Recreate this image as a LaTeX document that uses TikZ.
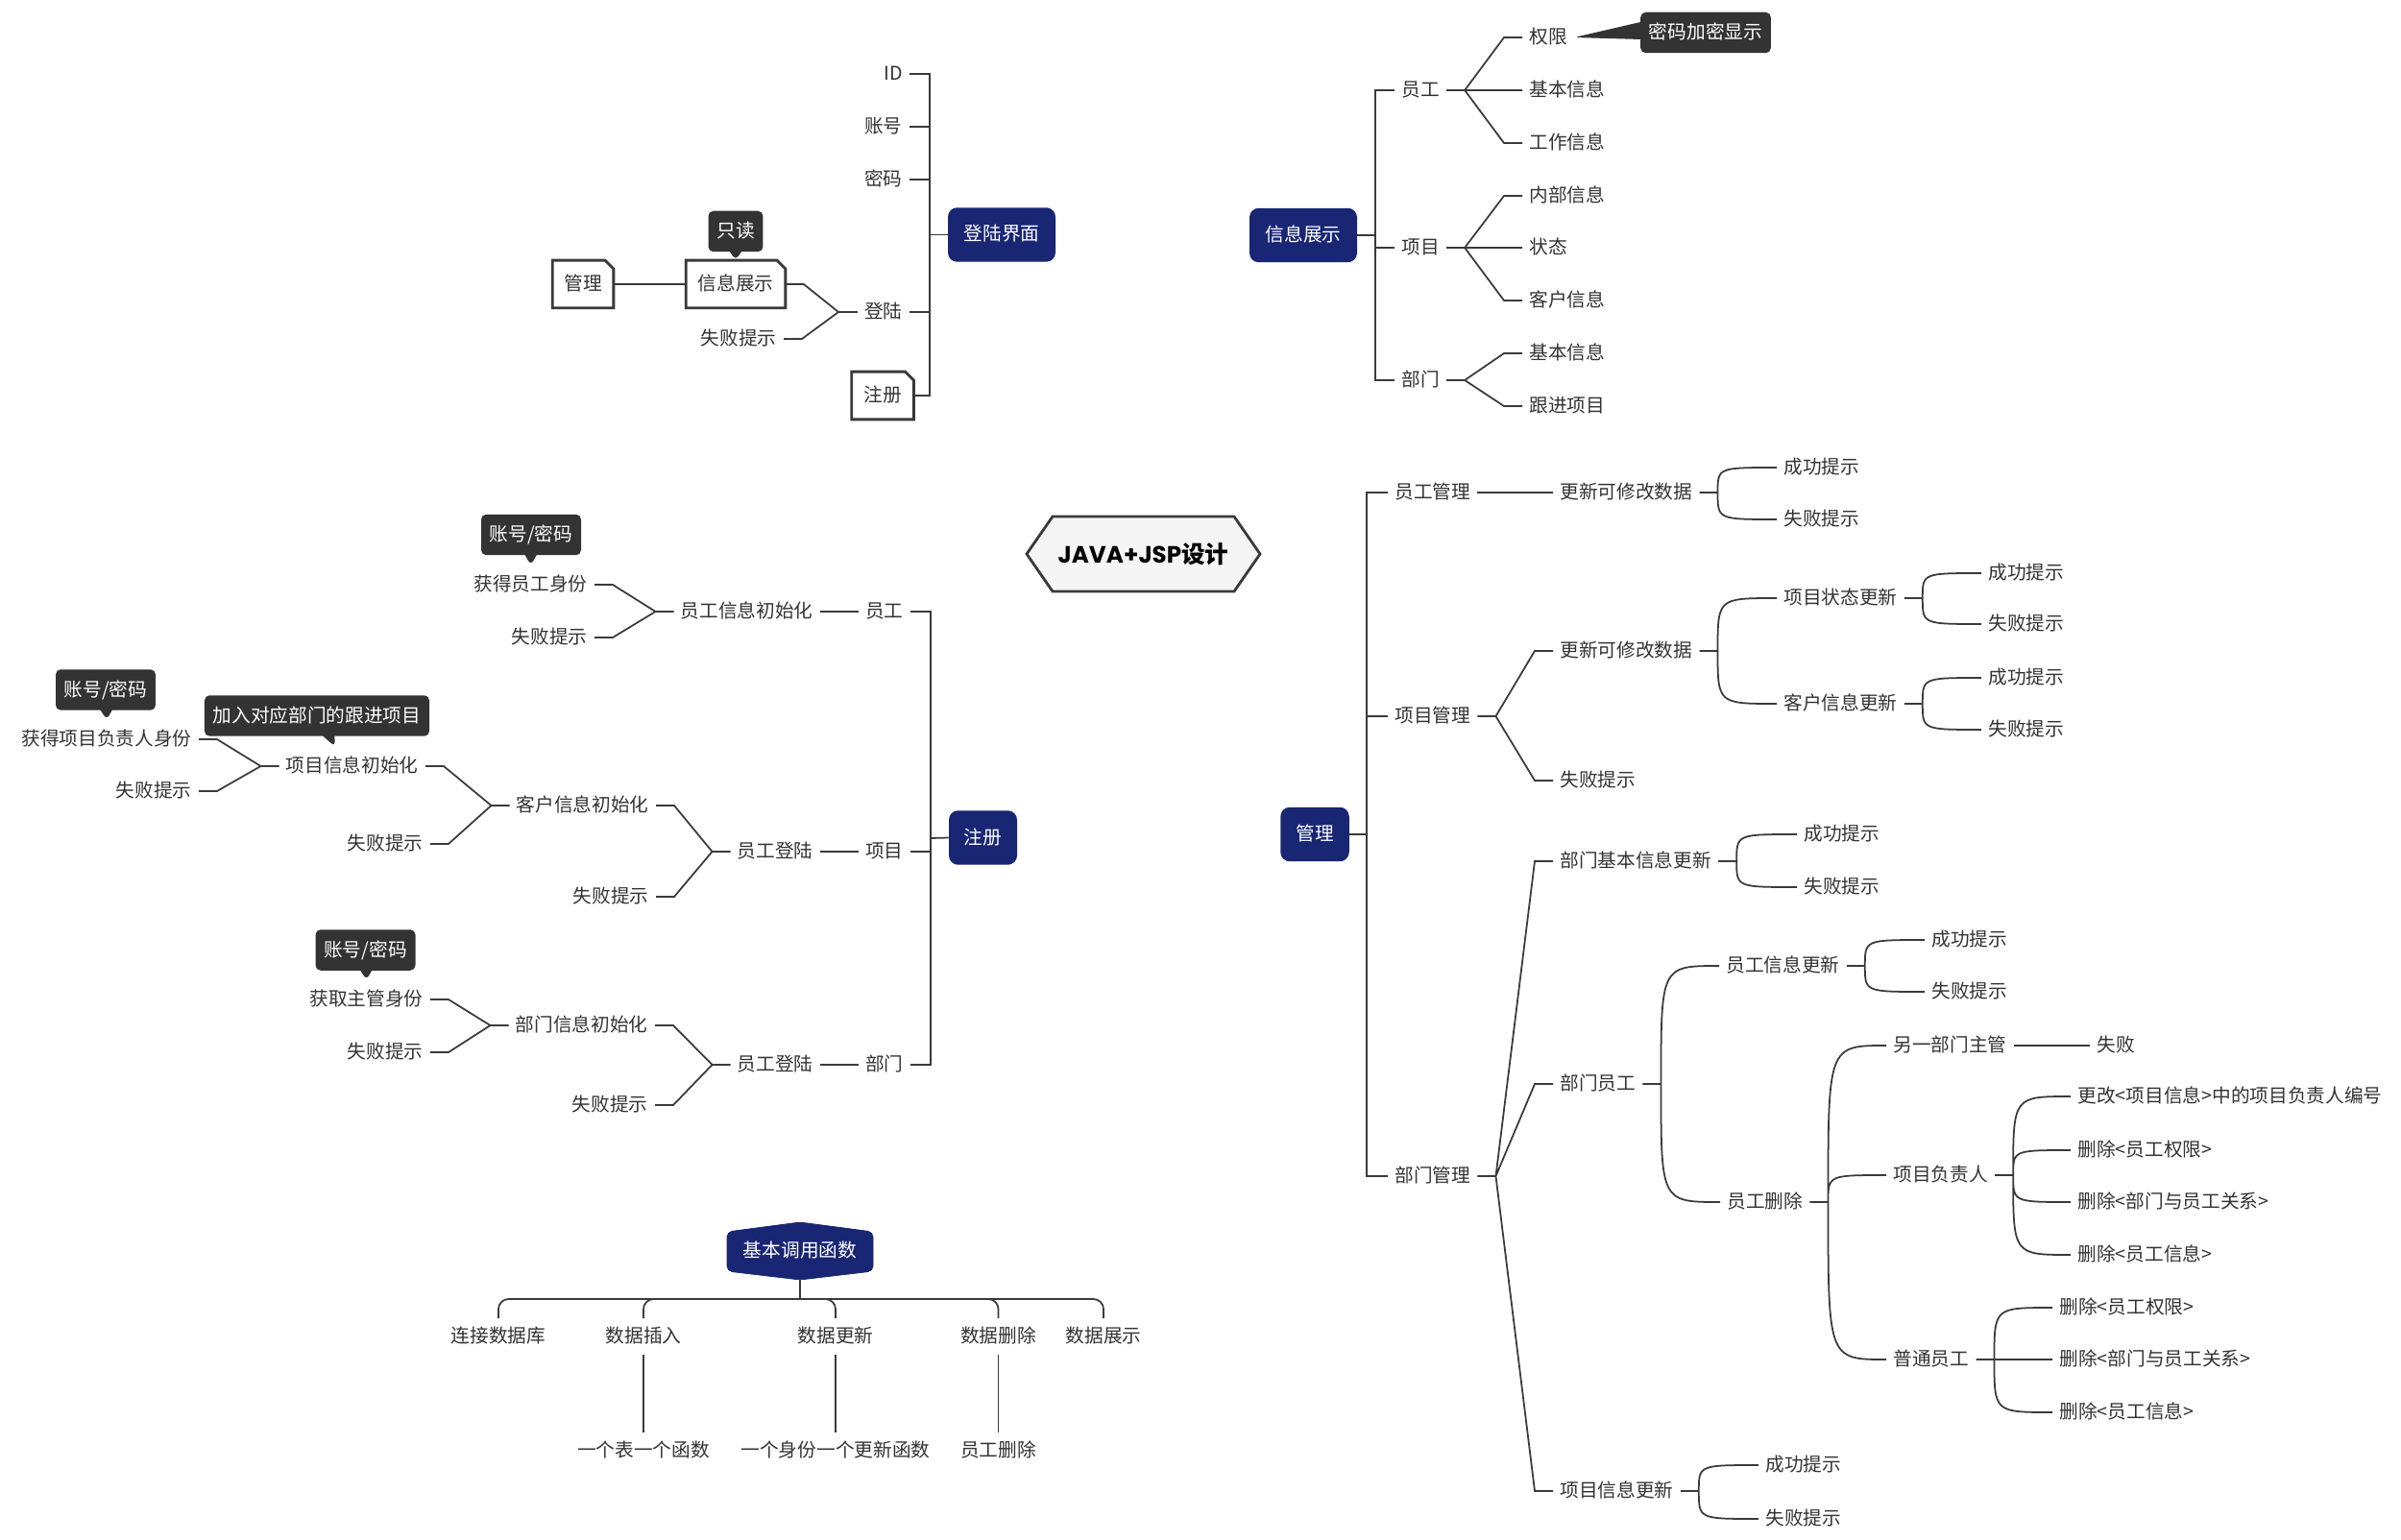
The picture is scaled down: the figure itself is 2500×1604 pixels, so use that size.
\documentclass[tikz,border=0pt]{standalone}
\usepackage{fontspec}
\setmainfont{Noto Sans CJK SC}
\newfontfamily\popfont{Poppins}
\usetikzlibrary{shapes.callouts}
\definecolor{navy}{RGB}{24,38,115}
\definecolor{tipc}{RGB}{51,51,51}
\definecolor{txtc}{RGB}{51,51,51}
\definecolor{linec}{RGB}{58,58,58}
\definecolor{rootc}{RGB}{245,245,245}
\tikzset{
  lbl/.style={inner xsep=4pt, inner ysep=1pt, text height=0.84em, text depth=0.1em, text=txtc, font=\fontsize{11.2}{13}\selectfont},
  topic/.style={lbl, fill=navy, text=white, rounded corners=5.5pt, minimum height=1.13cm},
  foldbox/.style={lbl, minimum height=0.98cm},
  foldline/.style={draw=linec, line width=1.6pt},
  tipbox/.style={lbl, rectangle callout, fill=tipc, text=white, rounded corners=3pt, inner xsep=5pt, minimum height=0.85cm, callout pointer width=0.24cm},
  fnc/.style={lbl, inner ysep=6pt, anchor=north},
  conn/.style={draw=linec, line width=1pt},
  rdiag/.style={to path={-- ([xshift=-0.38cm]\tikztotarget) -- (\tikztotarget)}},
  ldiag/.style={to path={-- ([xshift=0.38cm]\tikztotarget) -- (\tikztotarget)}},
  curvy/.style={to path={.. controls (\tikztostart |- \tikztotarget) .. (\tikztotarget)}}
}
\begin{document}
\begin{tikzpicture}[x=0.02cm, y=-0.02cm]
  \fill[white] (0,0) rectangle (2500,1604);
  \useasboundingbox (0,0) rectangle (2500,1604);

  \filldraw[fill=rootc, draw=linec, line width=1.6pt] (1069,577) -- (1096,538) -- (1285,538) -- (1312,577) -- (1285,616) -- (1096,616) -- cycle;
  \node[font=\fontsize{14}{16}\selectfont] (root) at (1190.5,577) {{\popfont\bfseries JAVA+JSP}\textbf{设计}};

  \node[topic, minimum width=2.24cm] (login) at (1043,244.5) {登陆界面};
  \coordinate (lgS) at (968,244.5);
  \node[lbl, anchor=east] (lgid) at (947,77) {ID};
  \node[lbl, anchor=east] (lgacc) at (947,132) {账号};
  \node[lbl, anchor=east] (lgpwd) at (947,187) {密码};
  \node[lbl, anchor=east] (lgin) at (947,325) {登陆};
  \node[foldbox, minimum width=1.28cm] (lgreg) at (919,412) {注册};
  \coordinate (lgF) at (873,325);
  \node[foldbox, minimum width=2.06cm] (lginfo) at (766,296) {信息展示};
  \node[lbl, anchor=east] (lgfail) at (816,353) {失败提示};
  \node[foldbox, minimum width=1.26cm] (lgmgr) at (607,296) {管理};
  \node[tipbox, callout absolute pointer={(lginfo.north)}] (lgtip) at (766,241) {只读};
  \draw[conn] (login.west) -- (lgS);
  \foreach \c in {lgid,lgacc,lgpwd,lgin,lgreg} \draw[conn] (\c.east) -| (lgS);
  \draw[conn] (lgin.west) -- (lgF) to[ldiag] (lginfo.east) (lgF) to[ldiag] (lgfail.east);
  \draw[conn] (lgmgr.east) -- (lginfo.west);
  \foreach \n in {lgmgr,lginfo,lgreg}
    \draw[foldline] (\n.south west) -- (\n.north west) -- ([xshift=-5pt]\n.north east) -- ([yshift=-5pt]\n.north east) -- (\n.south east) -- cycle;

  \node[topic, minimum width=2.24cm] (info) at (1357,245) {信息展示};
  \coordinate (infS) at (1432,245);
  \node[lbl, anchor=west] (ie) at (1452,94) {员工};
  \node[lbl, anchor=west] (ip) at (1452,258) {项目};
  \node[lbl, anchor=west] (idp) at (1452,396) {部门};
  \node[lbl, anchor=west] (ie1) at (1585,39) {权限};
  \node[lbl, anchor=west] (ie2) at (1585,94) {基本信息};
  \node[lbl, anchor=west] (ie3) at (1585,149) {工作信息};
  \node[lbl, anchor=west] (ip1) at (1585,204) {内部信息};
  \node[lbl, anchor=west] (ip2) at (1585,258) {状态};
  \node[lbl, anchor=west] (ip3) at (1585,313) {客户信息};
  \node[lbl, anchor=west] (id1) at (1585,368) {基本信息};
  \node[lbl, anchor=west] (id2) at (1585,423) {跟进项目};
  \node[tipbox, callout absolute pointer={(ie1.east)}, callout pointer width=0.36cm] (ietip) at (1776,34) {密码加密显示};
  \draw[conn] (info.east) -- (infS);
  \foreach \c in {ie,ip,idp} \draw[conn] (\c.west) -| (infS);
  \coordinate (ieF) at ([xshift=0.38cm]ie.east);
  \coordinate (ipF) at ([xshift=0.38cm]ip.east);
  \coordinate (idF) at ([xshift=0.38cm]idp.east);
  \draw[conn] (ie.east) -- (ieF) to[rdiag] (ie1.west) (ieF) to[rdiag] (ie2.west) (ieF) to[rdiag] (ie3.west);
  \draw[conn] (ip.east) -- (ipF) to[rdiag] (ip1.west) (ipF) to[rdiag] (ip2.west) (ipF) to[rdiag] (ip3.west);
  \draw[conn] (idp.east) -- (idF) to[rdiag] (id1.west) (idF) to[rdiag] (id2.west);

  \node[topic, minimum width=1.42cm] (reg) at (1023.5,872.5) {注册};
  \coordinate (regS) at (969,873);
  \node[lbl, anchor=east] (rg) at (948,637) {员工};
  \node[lbl, anchor=east] (rp) at (948,887) {项目};
  \node[lbl, anchor=east] (rd) at (948,1109) {部门};
  \node[lbl, anchor=east] (rgi) at (854,637) {员工信息初始化};
  \node[lbl, anchor=east] (rgi1) at (619,609) {获得员工身份};
  \node[lbl, anchor=east] (rgi2) at (619,664) {失败提示};
  \node[lbl, anchor=east] (rpl) at (854,887) {员工登陆};
  \node[lbl, anchor=east] (rpl1) at (683,839) {客户信息初始化};
  \node[lbl, anchor=east] (rpl2) at (683,934) {失败提示};
  \node[lbl, anchor=east] (rpc1) at (443,798) {项目信息初始化};
  \node[lbl, anchor=east] (rpc2) at (448,879) {失败提示};
  \node[lbl, anchor=east] (rpp1) at (207,770) {获得项目负责人身份};
  \node[lbl, anchor=east] (rpp2) at (207,824) {失败提示};
  \node[lbl, anchor=east] (rdl) at (854,1109) {员工登陆};
  \node[lbl, anchor=east] (rdl1) at (682,1068) {部门信息初始化};
  \node[lbl, anchor=east] (rdl2) at (682,1151) {失败提示};
  \node[lbl, anchor=east] (rdi1) at (448,1041) {获取主管身份};
  \node[lbl, anchor=east] (rdi2) at (448,1096) {失败提示};
  \node[tipbox, callout absolute pointer={([yshift=0.2cm]rgi1.north)}] (rgtip) at (553,557) {账号/密码};
  \node[tipbox, callout absolute pointer={([yshift=0.2cm]rpp1.north)}] (rptip) at (110,718.5) {账号/密码};
  \node[tipbox, callout absolute pointer={([xshift=-0.36cm,yshift=0.2cm]rpc1.north)}] (rctip) at (330,745.5) {加入对应部门的跟进项目};
  \node[tipbox, callout absolute pointer={([yshift=0.2cm]rdi1.north)}] (rdtip) at (380.5,989.5) {账号/密码};
  \draw[conn] (reg.west) -- (regS);
  \foreach \c in {rg,rp,rd} \draw[conn] (\c.east) -| (regS);
  \draw[conn] (rgi.east) -- (rg.west);
  \draw[conn] (rpl.east) -- (rp.west);
  \draw[conn] (rdl.east) -- (rd.west);
  \coordinate (rgF) at ([xshift=-0.38cm]rgi.west);
  \coordinate (rpF) at ([xshift=-0.38cm]rpl.west);
  \coordinate (rpcF) at ([xshift=-0.38cm]rpl1.west);
  \coordinate (rppF) at ([xshift=-0.38cm]rpc1.west);
  \coordinate (rdF) at ([xshift=-0.38cm]rdl.west);
  \coordinate (rdiF) at ([xshift=-0.38cm]rdl1.west);
  \draw[conn] (rgi.west) -- (rgF) to[ldiag] (rgi1.east) (rgF) to[ldiag] (rgi2.east);
  \draw[conn] (rpl.west) -- (rpF) to[ldiag] (rpl1.east) (rpF) to[ldiag] (rpl2.east);
  \draw[conn] (rpl1.west) -- (rpcF) to[ldiag] (rpc1.east) (rpcF) to[ldiag] (rpc2.east);
  \draw[conn] (rpc1.west) -- (rppF) to[ldiag] (rpp1.east) (rppF) to[ldiag] (rpp2.east);
  \draw[conn] (rdl.west) -- (rdF) to[ldiag] (rdl1.east) (rdF) to[ldiag] (rdl2.east);
  \draw[conn] (rdl1.west) -- (rdiF) to[ldiag] (rdi1.east) (rdiF) to[ldiag] (rdi2.east);

  \filldraw[fill=navy, draw=navy, rounded corners=3pt] (757,1283) -- (833,1273) -- (909,1283) -- (909,1324) -- (833,1333) -- (757,1324) -- cycle;
  \node[lbl, text=white] (fn) at (833,1303) {基本调用函数};
  \coordinate (fnT) at (833,1333);
  \coordinate (fnB) at (833,1353);
  \node[fnc] (fa) at (519,1373) {连接数据库};
  \node[fnc] (fb) at (670,1373) {数据插入};
  \node[fnc] (fc) at (870,1373) {数据更新};
  \node[fnc] (fd) at (1039.5,1373) {数据删除};
  \node[fnc] (fe) at (1149,1373) {数据展示};
  \node[fnc] (fb1) at (670,1492) {一个表一个函数};
  \node[fnc] (fc1) at (870,1492) {一个身份一个更新函数};
  \node[fnc] (fd1) at (1039.5,1492) {员工删除};
  \draw[conn] (fnT) -- (fnB);
  \foreach \c in {fa,fb,fc,fd,fe} \draw[conn, rounded corners=6pt] (fnB) -| (\c.north);
  \foreach \c in {fb,fc,fd} \draw[conn] (\c.south) -- (\c1.north);

  \node[topic, minimum width=1.43cm] (mg) at (1369,869) {管理};
  \coordinate (mgS) at (1423,869);
  \node[lbl, anchor=west] (me) at (1445,513) {员工管理};
  \node[lbl, anchor=west] (mp) at (1445,746) {项目管理};
  \node[lbl, anchor=west] (md) at (1445,1225) {部门管理};
  \node[lbl, anchor=west] (meu) at (1617,513) {更新可修改数据};
  \node[lbl, anchor=west] (meu1) at (1850,487) {成功提示};
  \node[lbl, anchor=west] (meu2) at (1850,541) {失败提示};
  \node[lbl, anchor=west] (mpu) at (1617,678) {更新可修改数据};
  \node[lbl, anchor=west] (mpf) at (1617,813) {失败提示};
  \node[lbl, anchor=west] (mps) at (1850,623) {项目状态更新};
  \node[lbl, anchor=west] (mpc) at (1850,733) {客户信息更新};
  \node[lbl, anchor=west] (mps1) at (2063,597) {成功提示};
  \node[lbl, anchor=west] (mps2) at (2063,650) {失败提示};
  \node[lbl, anchor=west] (mpc1) at (2063,706) {成功提示};
  \node[lbl, anchor=west] (mpc2) at (2063,760) {失败提示};
  \node[lbl, anchor=west] (mdb) at (1617,897) {部门基本信息更新};
  \node[lbl, anchor=west] (mdb1) at (1871,869) {成功提示};
  \node[lbl, anchor=west] (mdb2) at (1871,924) {失败提示};
  \node[lbl, anchor=west] (mds) at (1617,1129) {部门员工};
  \node[lbl, anchor=west] (msu) at (1790,1006) {员工信息更新};
  \node[lbl, anchor=west] (msu1) at (2004,979) {成功提示};
  \node[lbl, anchor=west] (msu2) at (2004,1033) {失败提示};
  \node[lbl, anchor=west] (msd) at (1791,1252) {员工删除};
  \node[lbl, anchor=west] (mso) at (1964,1089) {另一部门主管};
  \node[lbl, anchor=west] (mso1) at (2176,1089) {失败};
  \node[lbl, anchor=west] (msl) at (1964,1224) {项目负责人};
  \node[lbl, anchor=west] (msl1) at (2156,1142) {更改<项目信息>中的项目负责人编号};
  \node[lbl, anchor=west] (msl2) at (2156,1198) {删除<员工权限>};
  \node[lbl, anchor=west] (msl3) at (2156,1252) {删除<部门与员工关系>};
  \node[lbl, anchor=west] (msl4) at (2156,1307) {删除<员工信息>};
  \node[lbl, anchor=west] (msn) at (1964,1416) {普通员工};
  \node[lbl, anchor=west] (msn1) at (2137,1362) {删除<员工权限>};
  \node[lbl, anchor=west] (msn2) at (2137,1416) {删除<部门与员工关系>};
  \node[lbl, anchor=west] (msn3) at (2137,1471) {删除<员工信息>};
  \node[lbl, anchor=west] (mdp) at (1617,1553) {项目信息更新};
  \node[lbl, anchor=west] (mdp1) at (1831,1526) {成功提示};
  \node[lbl, anchor=west] (mdp2) at (1831,1582) {失败提示};
  \draw[conn] (mg.east) -- (mgS);
  \foreach \c in {me,mp,md} \draw[conn] (\c.west) -| (mgS);
  \draw[conn] (me.east) -- (meu.west);
  \coordinate (meuF) at ([xshift=0.38cm]meu.east);
  \coordinate (mpF) at ([xshift=0.38cm]mp.east);
  \coordinate (mpuF) at ([xshift=0.38cm]mpu.east);
  \coordinate (mpsF) at ([xshift=0.38cm]mps.east);
  \coordinate (mpcF) at ([xshift=0.38cm]mpc.east);
  \coordinate (mdF) at ([xshift=0.38cm]md.east);
  \coordinate (mdbF) at ([xshift=0.38cm]mdb.east);
  \coordinate (mdsF) at ([xshift=0.38cm]mds.east);
  \coordinate (msuF) at ([xshift=0.38cm]msu.east);
  \coordinate (msdF) at ([xshift=0.38cm]msd.east);
  \coordinate (mslF) at ([xshift=0.38cm]msl.east);
  \coordinate (msnF) at ([xshift=0.38cm]msn.east);
  \coordinate (mdpF) at ([xshift=0.38cm]mdp.east);
  \draw[conn] (meu.east) -- (meuF) to[curvy] (meu1.west) (meuF) to[curvy] (meu2.west);
  \draw[conn] (mp.east) -- (mpF) to[rdiag] (mpu.west) (mpF) to[rdiag] (mpf.west);
  \draw[conn] (mpu.east) -- (mpuF) to[curvy] (mps.west) (mpuF) to[curvy] (mpc.west);
  \draw[conn] (mps.east) -- (mpsF) to[curvy] (mps1.west) (mpsF) to[curvy] (mps2.west);
  \draw[conn] (mpc.east) -- (mpcF) to[curvy] (mpc1.west) (mpcF) to[curvy] (mpc2.west);
  \draw[conn] (md.east) -- (mdF) to[rdiag] (mdb.west) (mdF) to[rdiag] (mds.west) (mdF) to[rdiag] (mdp.west);
  \draw[conn] (mdb.east) -- (mdbF) to[curvy] (mdb1.west) (mdbF) to[curvy] (mdb2.west);
  \draw[conn] (mds.east) -- (mdsF) to[curvy] (msu.west) (mdsF) to[curvy] (msd.west);
  \draw[conn] (msu.east) -- (msuF) to[curvy] (msu1.west) (msuF) to[curvy] (msu2.west);
  \draw[conn] (msd.east) -- (msdF) to[curvy] (mso.west) (msdF) to[curvy] (msl.west) (msdF) to[curvy] (msn.west);
  \draw[conn] (mso.east) -- (mso1.west);
  \draw[conn] (msl.east) -- (mslF) to[curvy] (msl1.west) (mslF) to[curvy] (msl2.west) (mslF) to[curvy] (msl3.west) (mslF) to[curvy] (msl4.west);
  \draw[conn] (msn.east) -- (msnF) to[curvy] (msn1.west) (msnF) to[curvy] (msn2.west) (msnF) to[curvy] (msn3.west);
  \draw[conn] (mdp.east) -- (mdpF) to[curvy] (mdp1.west) (mdpF) to[curvy] (mdp2.west);
\end{tikzpicture}
\end{document}
